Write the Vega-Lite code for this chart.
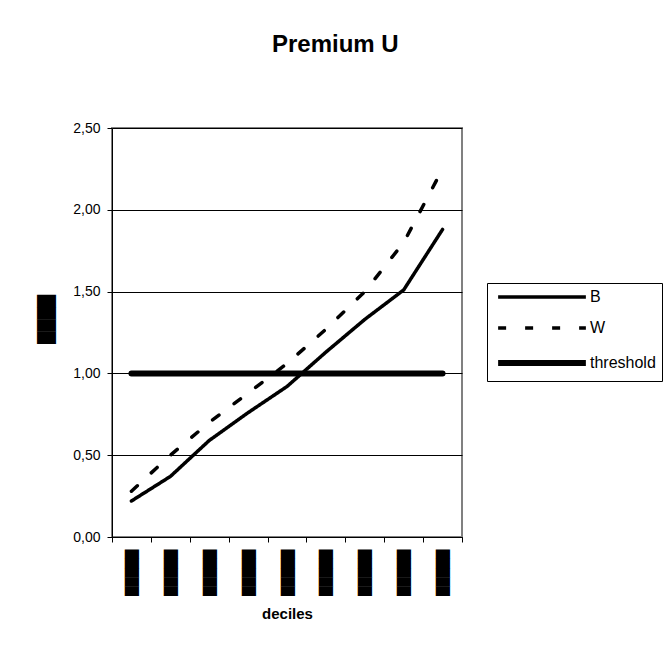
{
  "$schema": "https://vega.github.io/schema/vega-lite/v6.json",
  "autosize": "none",
  "width": 350,
  "height": 409,
  "padding": {"left": 112, "top": 128, "right": 205, "bottom": 122},
  "background": "white",
  "title": {
    "text": "Premium U",
    "font": "Liberation Sans",
    "fontSize": 24,
    "fontWeight": "bold",
    "color": "black",
    "anchor": "start",
    "frame": "group",
    "dx": 160,
    "baseline": "alphabetic",
    "offset": 45
  },
  "data": {
    "values": [
      {"decile": "1", "series": "B", "value": 0.22},
      {"decile": "2", "series": "B", "value": 0.37},
      {"decile": "3", "series": "B", "value": 0.59},
      {"decile": "4", "series": "B", "value": 0.76},
      {"decile": "5", "series": "B", "value": 0.92},
      {"decile": "6", "series": "B", "value": 1.13},
      {"decile": "7", "series": "B", "value": 1.33},
      {"decile": "8", "series": "B", "value": 1.51},
      {"decile": "9", "series": "B", "value": 1.88},
      {"decile": "1", "series": "W", "value": 0.28},
      {"decile": "2", "series": "W", "value": 0.50},
      {"decile": "3", "series": "W", "value": 0.70},
      {"decile": "4", "series": "W", "value": 0.88},
      {"decile": "5", "series": "W", "value": 1.06},
      {"decile": "6", "series": "W", "value": 1.27},
      {"decile": "7", "series": "W", "value": 1.50},
      {"decile": "8", "series": "W", "value": 1.80},
      {"decile": "9", "series": "W", "value": 2.25},
      {"decile": "1", "series": "threshold", "value": 1.0},
      {"decile": "2", "series": "threshold", "value": 1.0},
      {"decile": "3", "series": "threshold", "value": 1.0},
      {"decile": "4", "series": "threshold", "value": 1.0},
      {"decile": "5", "series": "threshold", "value": 1.0},
      {"decile": "6", "series": "threshold", "value": 1.0},
      {"decile": "7", "series": "threshold", "value": 1.0},
      {"decile": "8", "series": "threshold", "value": 1.0},
      {"decile": "9", "series": "threshold", "value": 1.0}
    ]
  },
  "mark": {"type": "line", "color": "black", "strokeCap": "round", "strokeJoin": "round"},
  "encoding": {
    "x": {
      "field": "decile",
      "type": "ordinal",
      "bandPosition": 0.5,
      "scale": {"type": "band", "paddingInner": 0, "paddingOuter": 0},
      "axis": {
        "tickBand": "extent",
        "labelExpr": "datum.label === '' ? '' : '█████'",
        "labelFont": "DejaVu Sans",
        "labelFontSize": 12,
        "labelAngle": 270,
        "labelColor": "black",
        "labelPadding": 7,
        "tickSize": 5,
        "tickColor": "black",
        "domainColor": "black",
        "grid": false,
        "title": "deciles",
        "titleFont": "Liberation Sans",
        "titleFontSize": 15,
        "titleFontWeight": "bold",
        "titleColor": "black",
        "titlePadding": 11
      }
    },
    "y": {
      "field": "value",
      "type": "quantitative",
      "scale": {"domain": [0, 2.5], "nice": false},
      "axis": {
        "values": [0, 0.5, 1, 1.5, 2, 2.5],
        "labelExpr": "replace(format(datum.value, '.2f'), '.', ',')",
        "labelFont": "Liberation Sans",
        "labelFontSize": 14,
        "labelColor": "black",
        "labelPadding": 7,
        "tickSize": 5,
        "tickColor": "black",
        "domainColor": "black",
        "grid": true,
        "gridColor": "black",
        "gridWidth": 1,
        "title": "████",
        "titleFont": "DejaVu Sans",
        "titleFontSize": 16,
        "titleFontWeight": "normal",
        "titleColor": "black",
        "titleAngle": 270,
        "titleAlign": "center",
        "titleBaseline": "middle",
        "titleX": -66,
        "titleY": 191
      }
    },
    "strokeDash": {
      "field": "series",
      "type": "ordinal",
      "scale": {"type": "ordinal", "domain": ["B", "W", "threshold"], "range": [[1, 0], [8, 19], [1, 0]]},
      "legend": {
        "title": null,
        "orient": "none",
        "legendX": 375,
        "legendY": 155,
        "strokeColor": "black",
        "padding": 6,
        "symbolType": "M-10,0H10",
        "symbolSize": 77,
        "symbolStrokeColor": "black",
        "symbolOffset": 41,
        "labelOffset": 40,
        "labelFont": "Liberation Sans",
        "labelFontSize": 16,
        "labelColor": "black",
        "rowPadding": 15
      }
    },
    "strokeWidth": {
      "field": "series",
      "type": "ordinal",
      "scale": {"type": "ordinal", "domain": ["B", "W", "threshold"], "range": [3.5, 3.5, 6]},
      "legend": {
        "title": null,
        "orient": "none",
        "legendX": 375,
        "legendY": 155,
        "strokeColor": "black",
        "padding": 6,
        "symbolType": "M-10,0H10",
        "symbolSize": 77,
        "symbolStrokeColor": "black",
        "symbolOffset": 41,
        "labelOffset": 40,
        "labelFont": "Liberation Sans",
        "labelFontSize": 16,
        "labelColor": "black",
        "rowPadding": 15
      }
    }
  },
  "config": {"view": {"stroke": "#808080", "strokeWidth": 2}}
}
